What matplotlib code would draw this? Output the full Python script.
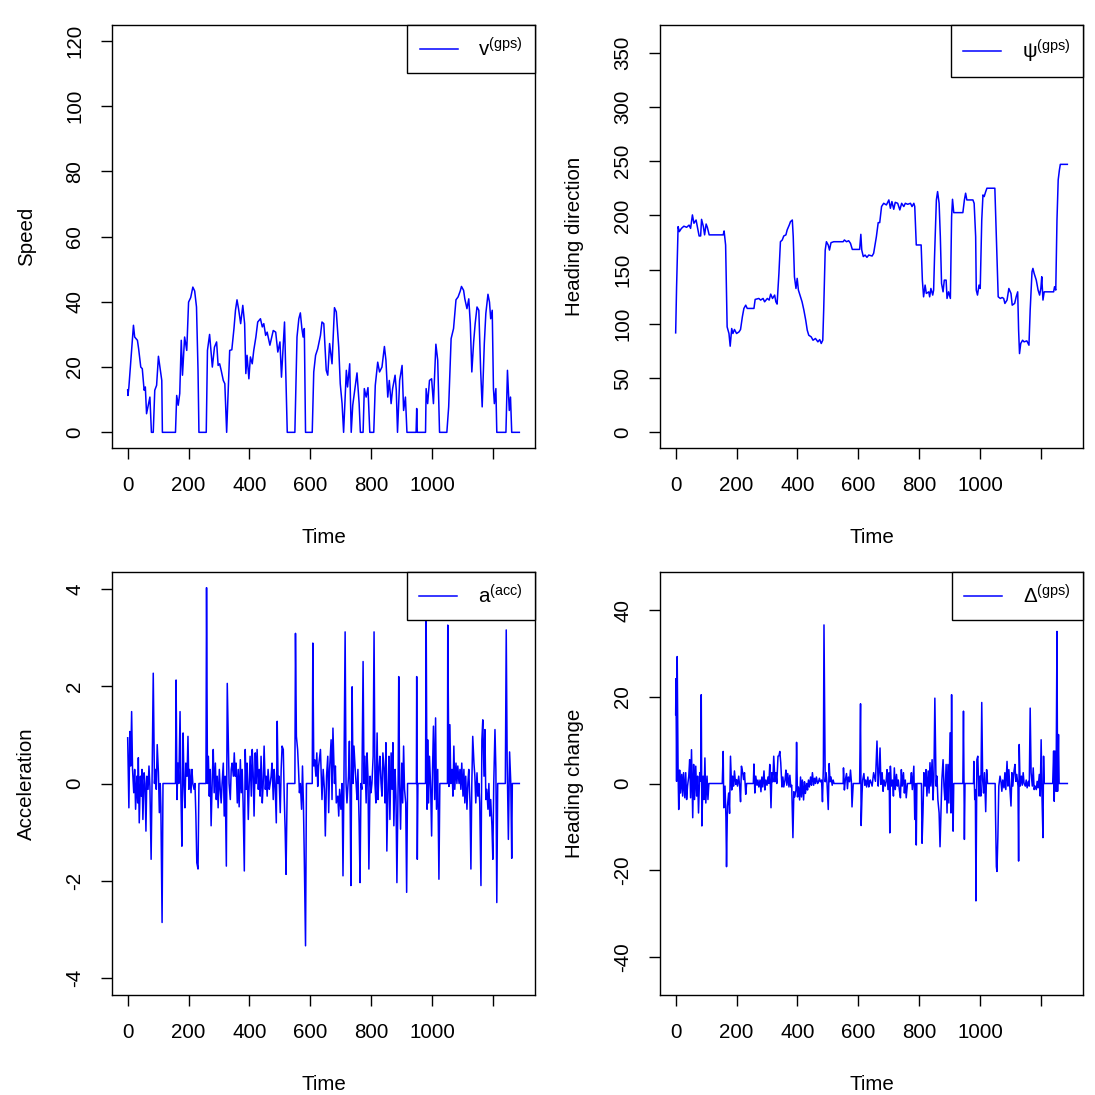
import numpy as np
import matplotlib
matplotlib.use("Agg")
import matplotlib.pyplot as plt

plt.rcParams['font.family'] = ['Liberation Sans', 'DejaVu Sans']
plt.rcParams['mathtext.fontset'] = 'custom'
plt.rcParams['mathtext.rm'] = 'Liberation Sans'
plt.rcParams['mathtext.it'] = 'Liberation Sans'

# speed v(gps)
speed_t = [0, 1, 4, 19, 23, 32, 36, 43, 48, 54, 58, 62, 73, 78, 84, 89, 95, 101, 106, 112, 114,
           157, 161, 166, 171, 176, 180, 187, 194, 200, 207, 214, 220, 226, 231, 234, 258, 262,
           269, 278, 285, 292, 297, 302, 307, 314, 319, 325, 335, 342, 349, 354, 359, 364, 371,
           378, 384, 388, 392, 398, 403, 409, 414, 421, 427, 436, 442, 447, 453, 458, 467, 478,
           486, 493, 500, 505, 515, 524, 549, 556, 562, 567, 572, 576, 580, 584, 606, 611, 617,
           624, 633, 638, 644, 652, 657, 663, 671, 679, 685, 693, 698, 704, 709, 718, 722, 729,
           734, 739, 744, 753, 760, 764, 773, 777, 783, 789, 795, 808, 813, 821, 827, 835, 843,
           848, 854, 859, 865, 870, 878, 882, 886, 893, 901, 906, 912, 917, 947, 949, 951, 978,
           980, 985, 991, 998, 1004, 1012, 1018, 1024, 1048, 1054, 1062, 1070, 1078, 1085, 1092,
           1096, 1103, 1107, 1114, 1120, 1125, 1130, 1136, 1141, 1147, 1153, 1159, 1164, 1171,
           1176, 1183, 1188, 1192, 1197, 1201, 1204, 1209, 1212, 1242, 1247, 1253, 1257, 1261, 1286]
speed_v = [13, 11.3, 13.9, 32.8, 29.2, 28.2, 25.6, 20, 19.5, 12.9, 13.9, 5.7, 10.8, 0, 0, 12.9, 14.4,
           23.3, 20, 15.9, 0, 0, 11.3, 8.3, 11.9, 28.2, 17.5, 29.2, 25.1, 39.9, 41.3, 44.5, 43.3,
           38.4, 19, 0, 0, 25.1, 30, 20, 26.1, 27.7, 20.5, 21, 19, 15.9, 14.9, 0, 25.1, 25.3, 31.8,
           37.4, 40.6, 37.9, 33.3, 38.9, 33.3, 18, 23.6, 16.4, 23.1, 21, 25.1, 29.2, 33.8, 34.8,
           32.3, 33.3, 29.7, 30.7, 26.7, 31.2, 30.7, 24.6, 27.7, 16.9, 33.8, 0, 0, 29.2, 34.8, 36.6,
           31.8, 29.2, 31.8, 0, 0, 18.5, 23.6, 25.6, 29.7, 33.8, 33.3, 19, 17.5, 27.2, 21, 38.2,
           36.9, 26.1, 14.9, 8.8, 0, 19, 13.9, 21, 0, 8.3, 11.9, 18.2, 8.8, 0, 0, 13.4, 10.8, 13.7,
           0, 0, 14.4, 21.5, 18.5, 20, 26.3, 22.1, 10.8, 15.9, 8.8, 13.4, 17.5, 12.9, 0, 15.9, 20.5,
           6.7, 10.8, 0, 0, 7.3, 0, 0, 13.4, 8.8, 15.9, 16.4, 8.8, 27, 22.1, 0, 0, 7.8, 28.7, 31.8,
           40.6, 41.5, 43.3, 44.7, 43.5, 40.9, 37.9, 40.9, 33.3, 18.5, 27.7, 33.3, 38.4, 37.4, 19,
           7.8, 27.2, 36.4, 42.3, 39.9, 34.8, 37.4, 13.4, 8.8, 13.4, 0, 0, 19, 6.7, 10.8, 0, 0]

# heading direction psi(gps)
head_t = [0, 3, 8, 12, 19, 27, 36, 44, 49, 55, 60, 67, 71, 77, 82, 85, 91, 95, 100, 104, 110, 156,
          159, 164, 169, 175, 179, 184, 188, 193, 200, 208, 213, 219, 224, 230, 235, 257, 261, 273,
          279, 287, 292, 301, 307, 312, 318, 325, 329, 333, 339, 344, 350, 355, 362, 366, 373, 377,
          383, 386, 390, 395, 399, 403, 410, 415, 421, 427, 432, 437, 445, 451, 459, 467, 473, 478,
          483, 486, 491, 495, 501, 505, 510, 519, 550, 554, 561, 568, 574, 580, 604, 608, 611, 616,
          622, 628, 634, 645, 650, 659, 665, 670, 676, 683, 692, 700, 705, 710, 716, 721, 729, 736,
          742, 749, 754, 762, 771, 776, 782, 785, 790, 806, 810, 814, 819, 823, 831, 834, 838, 844,
          847, 850, 856, 860, 865, 869, 873, 878, 882, 888, 891, 896, 902, 906, 909, 913, 943, 948,
          952, 956, 976, 980, 985, 987, 991, 996, 1000, 1005, 1009, 1013, 1018, 1022, 1048, 1053,
          1059, 1066, 1072, 1077, 1081, 1088, 1094, 1101, 1105, 1113, 1118, 1123, 1126, 1129, 1133,
          1139, 1144, 1153, 1160, 1164, 1170, 1173, 1177, 1184, 1190, 1195, 1199, 1202, 1206, 1210,
          1241, 1244, 1248, 1252, 1256, 1260, 1263, 1286]
head_v = [91.7, 134, 189.6, 185, 188, 190, 189, 191, 188, 200.4, 192.7, 195.7, 189.6, 181, 181,
          196.3, 189.6, 182, 192, 189, 182, 182, 185.6, 172.6, 97.2, 91.1, 79.4, 95.7, 91.1, 94.8,
          91.1, 92.6, 94.8, 106.5, 114.2, 117.2, 114.2, 114.2, 122.5, 123.4, 121.9, 123.4, 120.3,
          123.4, 121.9, 127.4, 123.4, 126.5, 120.3, 118.2, 146.5, 175.7, 177.3, 181, 182, 186.5,
          191.1, 194.2, 195.7, 180.3, 143.4, 132.6, 141.9, 131.1, 124.9, 120.3, 112.6, 103.4, 94.2,
          89.5, 88, 84.9, 86.5, 83.4, 85.5, 81.9, 84.9, 112.6, 168, 175.7, 172.6, 168, 174.8, 175.7,
          175.7, 177.3, 175.7, 176.6, 174.2, 168.6, 168.6, 182.5, 168, 162, 163.4, 161.3, 163.4,
          162.5, 165, 180.3, 193.3, 193.3, 208.1, 211.1, 209.6, 214.2, 206.5, 212.7, 205.6, 212,
          211.1, 205, 211.1, 208.1, 211.1, 210.2, 211.1, 208.1, 211.1, 208.1, 172.7, 172.7, 140.3,
          124.9, 135.7, 128, 129.5, 124.9, 132.6, 126.5, 131.1, 161.9, 214.2, 221.9, 211.1, 180.3,
          137.2, 129.5, 140.3, 140.3, 123.4, 129.5, 123.4, 198.8, 214.8, 202.5, 202.5, 214.2, 220.4,
          214.2, 214.2, 211.1, 180.3, 131.1, 126.5, 135.7, 132.6, 195.7, 218.8, 217.3, 221.9, 225,
          225, 180.3, 124.9, 123.4, 124.3, 123.4, 118.8, 121.9, 132.6, 128, 117.2, 118.8, 124.9,
          129.5, 94.2, 72.6, 81.9, 84.9, 83.4, 84.3, 80.3, 112.6, 148, 151.1, 146.5, 140.3, 131.1,
          126.5, 132.6, 143.4, 121.9, 129.5, 129.5, 134.2, 131.1, 195.7, 232.7, 241.9, 247, 247]

# acceleration a(acc)
acc_t = [0, 4, 7, 10, 13, 16, 20, 23, 26, 30, 33, 35, 38, 42, 45, 47, 50, 54, 57, 60, 63, 67, 70,
         73, 77, 80, 84, 88, 91, 94, 97, 101, 104, 107, 109, 113, 116, 157, 159, 162, 165, 168, 172,
         175, 178, 182, 185, 188, 191, 195, 198, 201, 204, 208, 211, 214, 218, 221, 224, 227, 231,
         234, 257, 259, 262, 265, 268, 271, 274, 278, 281, 284, 288, 291, 294, 297, 301, 304, 307,
         310, 314, 317, 320, 324, 327, 330, 333, 337, 340, 343, 347, 350, 353, 356, 360, 363, 366,
         370, 373, 376, 379, 383, 386, 389, 392, 396, 399, 402, 406, 409, 412, 415, 419, 422, 425,
         429, 432, 435, 438, 442, 445, 448, 452, 455, 458, 461, 465, 468, 471, 474, 478, 481, 484,
         488, 491, 494, 497, 501, 504, 507, 511, 514, 517, 520, 524, 549, 551, 554, 558, 561, 564,
         567, 571, 574, 577, 580, 584, 587, 606, 608, 611, 614, 618, 621, 624, 627, 633, 638, 642,
         646, 649, 653, 657, 660, 663, 668, 671, 674, 679, 682, 685, 690, 693, 696, 700, 704, 707,
         710, 714, 717, 720, 725, 728, 730, 733, 737, 740, 743, 747, 750, 753, 756, 760, 763, 766,
         769, 773, 776, 779, 783, 786, 789, 792, 796, 799, 802, 806, 809, 812, 815, 819, 822, 825,
         828, 832, 835, 838, 842, 845, 848, 851, 855, 858, 861, 865, 868, 871, 874, 878, 881, 884,
         888, 890, 893, 896, 900, 903, 906, 909, 913, 916, 919, 948, 949, 951, 953, 978, 980, 983,
         985, 988, 991, 995, 998, 1001, 1004, 1008, 1011, 1014, 1018, 1022, 1025, 1050, 1051, 1055,
         1058, 1061, 1065, 1068, 1071, 1074, 1078, 1081, 1084, 1088, 1091, 1094, 1097, 1101, 1104,
         1107, 1110, 1114, 1117, 1120, 1124, 1127, 1130, 1133, 1137, 1140, 1143, 1147, 1150, 1153,
         1156, 1160, 1163, 1166, 1170, 1173, 1176, 1179, 1183, 1186, 1189, 1192, 1196, 1199, 1202,
         1206, 1209, 1212, 1215, 1240, 1243, 1246, 1250, 1254, 1258, 1261, 1263, 1286]
acc_v = [0.94, -0.5, 1.07, 0.36, 1.48, 0.29, -0.19, 0.29, -0.53, 0.15, -0.4, 0.53, -0.81, 0.15,
         -0.26, 0.29, -0.74, 0.22, 0, -0.98, 0.15, -0.12, 0.36, -0.06, -1.56, 0, 2.27, 0, 0.29,
         -0.12, 0.8, 0.22, -0.6, 0, -0.48, -2.86, 0, 0, 2.13, -0.33, 0.42, 0, 1.48, -0.26, -1.29,
         1.04, 0, -0.5, 0.42, 0.15, 0.97, -0.12, 0.29, -0.19, 0.29, 0, -0.12, 0, -0.67, -1.63,
         -1.76, 0, 0, 4.03, 0, 0.56, -0.26, 0.29, -0.87, 0.15, 0.7, -0.19, 0.42, -0.33, 0.15, -0.5,
         0.29, -0.12, -0.4, 0, 0.42, -0.67, 0.15, -1.7, 2.06, 0.97, 0, -0.33, 0.29, 0.42, 0.15,
         0.63, 0.15, 0.42, -0.4, 0.29, -0.48, 0.49, -0.19, 0.29, -0.4, -1.8, 0.7, -0.12, 0.42,
         -0.74, 0, 0.56, -0.26, 0.7, 0.22, -0.67, 0.63, 0, 0.7, -0.12, 0.29, -0.26, 0.56, -0.4, 0,
         0.77, -0.12, 0.15, -0.26, 0.29, -0.12, 0, 0.15, 0.42, -0.33, 0.29, 0, -0.81, 1.28, 0,
         0.15, -0.6, 0.29, 0.77, 0.7, -0.26, -0.94, -1.87, 0, 0, 3.09, 0.97, 0.7, 0.29, -0.19, 0,
         -0.53, 0.36, -0.4, -1.56, -3.34, 0, 0, 2.89, 0.36, 0.49, 0.15, 0.63, -0.06, 0.36, 0.7,
         -0.33, 0.29, -0.12, -1.08, 0.15, 0.56, -0.6, 0.29, 0.9, -0.33, 1.14, 0, 0.36, -0.4, -0.26,
         -0.67, -0.12, -0.53, 0, -1.9, 0, 3.12, 0, -0.4, 0.15, 0.87, -0.06, -2.1, 1.99, 0, 0.77,
         0.29, 0, -0.33, 0.29, -0.81, -2.04, 0, -0.12, 2.51, 0, 0.56, -0.4, 0.63, 0.15, -1.76,
         0.15, -0.19, 0, 0.56, 3.12, 0, -0.4, 1.04, -0.33, 0.29, 0.56, 0, -0.26, 0.63, 0.29, -0.4,
         0.84, -1.39, 0, 0.56, -0.74, 0.63, -0.12, 0.84, -0.87, 0.29, -0.26, -2.04, 0, 2.2, 0,
         -0.94, 0.42, -0.4, 0.77, -0.12, -0.4, -2.24, 0, 0, 2.2, -1.56, 0, 0, 3.54, -0.53, 0.9,
         -0.4, 0.56, -0.12, -1.08, 0.29, 1.18, -0.33, 1.35, -0.53, 0.29, -1.97, 0, 0, 3.26, -0.06,
         1.21, 0, 0.29, -0.26, 0.77, -0.12, 0.42, 0, 0.36, 0, 0.29, -0.12, 0.42, -0.26, 0.29, -0.4,
         0.15, -0.53, 0, 0.29, -0.4, -1.76, 0, 0.97, 0.42, 0.15, -0.4, 0.22, -0.26, 0, -0.4, -2.1,
         0.9, 1.31, 0.15, 1.11, -0.33, -0.12, -0.53, 0, -0.67, -0.33, -0.87, -1.56, 0, 1.11, 0.29,
         -2.45, 0, 0, 3.16, 0.49, -1.15, 0.65, 0, -1.54, 0, 0]

# heading change Delta(gps)
dh_t = [0, 1, 3, 5, 8, 10, 13, 16, 20, 23, 26, 30, 33, 36, 39, 43, 46, 49, 52, 56, 59, 62, 66, 69,
        72, 75, 79, 82, 84, 86, 90, 93, 96, 99, 103, 106, 109, 153, 156, 158, 162, 165, 167, 170,
        174, 177, 180, 184, 187, 190, 193, 197, 200, 203, 207, 210, 213, 216, 220, 223, 226, 230,
        233, 255, 257, 260, 263, 267, 270, 273, 277, 280, 283, 286, 290, 293, 296, 300, 303, 306,
        309, 313, 316, 319, 322, 326, 329, 332, 336, 339, 342, 345, 349, 352, 355, 359, 362, 365,
        368, 372, 375, 378, 381, 385, 388, 391, 395, 397, 400, 403, 407, 410, 413, 416, 420, 423,
        426, 430, 433, 436, 439, 443, 446, 449, 453, 456, 459, 462, 466, 469, 472, 475, 479, 482,
        485, 487, 491, 494, 497, 501, 504, 507, 510, 514, 517, 520, 550, 551, 554, 557, 561, 564,
        567, 571, 574, 577, 579, 583, 604, 607, 609, 612, 614, 618, 621, 624, 627, 631, 634, 637,
        639, 645, 650, 656, 661, 665, 668, 671, 674, 678, 681, 684, 688, 691, 694, 697, 701, 703,
        705, 708, 712, 715, 718, 721, 725, 728, 731, 735, 738, 741, 744, 748, 751, 754, 757, 761,
        771, 774, 777, 782, 785, 788, 790, 792, 807, 809, 812, 815, 819, 822, 825, 829, 832, 835,
        838, 842, 845, 848, 851, 855, 858, 861, 865, 868, 871, 874, 878, 881, 884, 888, 891, 894,
        897, 901, 904, 906, 908, 911, 913, 943, 945, 948, 950, 978, 979, 982, 984, 986, 989, 992,
        996, 999, 1002, 1005, 1008, 1011, 1014, 1018, 1021, 1024, 1049, 1050, 1053, 1055, 1058,
        1061, 1065, 1068, 1071, 1074, 1078, 1081, 1084, 1088, 1091, 1094, 1097, 1101, 1104, 1107,
        1111, 1114, 1117, 1120, 1124, 1126, 1128, 1131, 1135, 1138, 1141, 1144, 1148, 1151, 1154,
        1158, 1161, 1164, 1167, 1171, 1174, 1177, 1180, 1184, 1187, 1190, 1194, 1197, 1200, 1203,
        1206, 1208, 1210, 1238, 1241, 1243, 1245, 1249, 1252, 1254, 1257, 1259, 1286]
dh_v = [15.9, 24.2, 0.5, 29.3, 2.5, -6, 3.1, -2.2, 2.1, -2.9, 2.5, -3.3, 2.5, -3.7, -0.6, 1.7, 5.5,
        -3.3, 7.8, -7.9, 4.4, -3.7, 4, -2.9, 1.7, -6.8, 2.5, 0.5, 20.5, -9.8, 1.7, -3.7, 5.9, -4.5,
        1.7, -3.7, 0, 0, 7.4, -5.6, -0.6, -7.7, -19.2, -5.2, -2.2, -6.9, 6.3, -1.5, 1.7, -0.6, 2.9,
        -0.2, 0.9, -0.6, 1.7, -0.6, -4.2, 4, 2.5, 0.9, 2.5, -2.5, 0, 0, 4.5, -2.2, 1.7, -0.4, 0.8,
        -0.8, 0.8, -1.9, 1.5, -0.8, 2.9, -1.5, 0.8, -0.4, 1.5, 0, 4.4, -5.6, 2.5, 0.4, 6.3, 0.4,
        2.5, 0, 6.3, 6.4, 7.4, 4.8, -0.8, 1.5, -0.8, 0.8, 3.1, -0.4, 2.3, -0.8, 1.9, -0.8, -0.4,
        -12.5, -1.9, -3.1, -1.5, 9.5, -3.1, -0.8, -3.8, 1.5, -3.1, 0.8, -3.8, 0.4, -2.3, 0, -1.5,
        0.8, -0.8, 1.5, -0.4, 2.5, -0.4, 1.2, 0, 1.5, 0, 0.4, 1.2, 0.4, 0.8, -4.2, 4, 36.6, 0.4,
        2.5, 0, -6, 4.6, 0.4, 1.5, -0.4, 0.8, 0, 0, 3.6, -1.5, 0.8, 2.3, -1.2, 1.5, 0.4, 3.1, 0.4,
        -5.4, 0, 0, 18.4, -9.7, -2.3, 0.8, 2.3, -0.4, 0.8, -0.8, 1.5, -0.8, 0.4, 0.8, -0.6, 2.5,
        0.5, 9.8, -0.6, 2.5, 8.2, -0.2, 2.5, -1.8, 0.8, -0.6, 0.5, 3.2, -1.4, 2.5, -11.4, 4, -0.6,
        0.8, -2.9, 3.6, -1.4, 2.1, -0.6, 0.8, -1.8, -3.3, 3.2, -0.6, 2.5, -2.2, 0.8, -3.3, 0, 0,
        2.5, -1.4, 4, -8.3, 0, -14.2, 0, 0, -13.8, -6.8, 2.5, -0.6, 3.2, -2.9, 2.9, -2.2, 4.8, -0.6,
        5.5, -3.8, 1.7, 19.7, -0.6, 1.7, -3.8, -6.8, -14.6, -6.8, 0.8, 5.5, -0.6, -3.8, 4.4, -6.8,
        4.4, -4.5, 11.7, -6.8, 20.5, -0.6, -11, 0, 0, 16.7, -12.9, 0, 0, 5.1, -3.7, -1.4, -27.1,
        5.5, 6.3, -2.9, 1.7, -2.9, 18.7, 0.8, -2.2, 2.5, -6.5, 3.2, 0, 0, -6.1, -19.2, -20.3,
        -12.1, -0.6, 1.7, 0.5, -1.8, 0.8, -1, 2.5, -1.4, 5.1, -0.6, 3.2, -0.6, -5.2, 2.5, -0.6,
        2.9, 4.4, 0.5, 2.1, -0.6, -17.9, 9, -0.6, 1.7, -0.4, 2.5, 0, -0.6, 0.8, -1, 0.5, -0.6,
        17.4, 2.5, -0.6, 3.6, -1.4, -0.6, -1.4, 0.5, -1, 2.1, -2.9, 10.1, -3.7, -12.5, 6.3, 0, 0,
        7.5, -4.1, 7.5, -1.8, 35.1, -1.8, 11.3, 0, 0]

x_ticks = [0, 200, 400, 600, 800, 1000, 1200]
x_labels = ['0', '200', '400', '600', '800', '1000', '']

panels = [
    (speed_t, speed_v, 'Speed', r'v$^{\mathrm{(gps)}}$', (0, 120), np.arange(0, 121, 20)),
    (head_t, head_v, 'Heading direction', r'ψ$^{\mathrm{(gps)}}$', (0, 361), np.arange(0, 351, 50)),
    (acc_t, acc_v, 'Acceleration', r'a$^{\mathrm{(acc)}}$', (-4.03, 4.03), np.arange(-4, 5, 2)),
    (dh_t, dh_v, 'Heading change', r'Δ$^{\mathrm{(gps)}}$', (-45.2, 45.2), np.arange(-40, 41, 20)),
]
boxes = [(112, 25), (660, 25), (112, 572), (660, 572)]

W = 1095
fig = plt.figure(figsize=(W / 100, W / 100), dpi=100)
fs = 14.8

for (t, v, ylab, leg, (lo, hi), yt), (bx, by) in zip(panels, boxes):
    ax = fig.add_axes([bx / W, (W - by - 423) / W, 423 / W, 423 / W])
    ax.plot(t, v, color='#0000FF', lw=1.1, label=leg)
    tmax = max(t)
    ax.set_xlim(-0.04 * tmax, tmax * 1.04)
    pad = 0.04 * (hi - lo)
    ax.set_ylim(lo - pad, hi + pad)
    ax.set_xticks(x_ticks)
    ax.set_xticklabels(x_labels)
    ax.set_yticks(yt)
    ax.set_yticklabels([str(int(y)) for y in yt], rotation=90, va='center')
    ax.tick_params(direction='out', length=8, width=1.0, labelsize=fs, pad=12, colors='black')
    for s in ax.spines.values():
        s.set_linewidth(1.0)
    ax.set_xlabel('Time', fontsize=fs, labelpad=24)
    ax.set_ylabel(ylab, fontsize=fs, labelpad=21)
    lg = ax.legend(loc='upper right', borderaxespad=0, fancybox=False, framealpha=1,
                   edgecolor='black', fontsize=fs, handlelength=1.85, handletextpad=1.0,
                   borderpad=0.6)
    lg.get_frame().set_linewidth(1.0)

fig.savefig('out.png', dpi=100)
